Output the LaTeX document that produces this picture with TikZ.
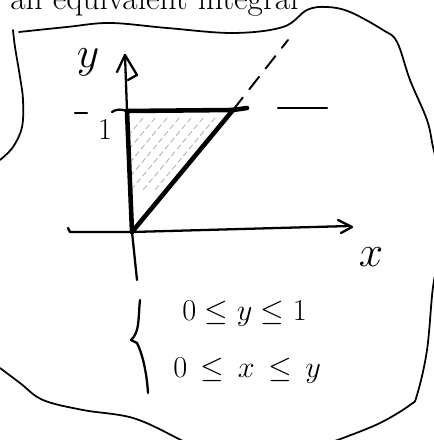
\documentclass[tikz,border=0pt]{standalone}
\usepackage{amsmath,amssymb}
\usepackage{tikz}
\usetikzlibrary{calc}

\begin{document}
\begin{tikzpicture}[x=0.2mm, y=-0.2mm, line cap=round, line join=round,
  frame/.style={line width=1pt},
  axis/.style={line width=1.3pt},
  edge/.style={line width=2.6pt},
  hatch/.style={gray!60, line width=0.5pt, dash pattern=on 3pt off 2pt},
  guide/.style={line width=1.1pt, dash pattern=on 9pt off 6pt},
  hand/.style={inner sep=0pt, font=\fontsize{24}{24}\selectfont},
  ineq/.style={inner sep=0pt, font=\fontsize{18}{18}\selectfont},
]
\useasboundingbox (0,0) rectangle (433,440);
% caption cut off by the page
\node[anchor=base west, inner sep=0pt, font=\fontsize{19}{19}\selectfont] (cap) at (10,10) {an equivalent integral};

% the sketched frame
\draw[frame] plot[smooth, tension=0.6] coordinates {(13,30) (15,47) (20,77) (23,100) (22,127) (13,147) (0,160)};
\draw[frame] plot[smooth, tension=0.6] coordinates {(19,32) (67,27) (110,23) (167,28) (233,33) (283,27) (307,10) (327,7) (350,12) (383,30) (397,42) (410,80) (427,120) (433,147) (440,175)};
\draw[frame] plot[smooth, tension=0.6] coordinates {(440,255) (433,287) (427,350) (417,395) (410,405) (380,423) (343,438) (320,446)};
\draw[frame] plot[smooth, tension=0.6] coordinates {(0,368) (20,383) (43,400) (83,410) (133,418) (177,438) (190,446)};

\coordinate (O) at (132,232);
\coordinate (A) at (127,111);
\coordinate (B) at (233,110);

% shaded region
\begin{scope}
  \clip (O) -- (A) -- (B) -- cycle;
  \foreach \s in {18,30,...,90}
    \draw[hatch] ($(B)+(-\s,8)$) -- ++(-60,72);
\end{scope}

% axes
\draw[axis] (137,280) -- (O) -- (A) -- (125,55);
\draw[axis] (117,72) -- (125,55) -- (137,75) -- (128,80);
\draw[axis] (68,228) -- (70,232) -- (O) -- (350,226);
\draw[axis] (338,220) -- (352,227) -- (341,233);

% y = 1 and y = x
\draw[axis] (75,113) -- (87,113);
\draw[axis] (112,112) .. controls (116,109) and (121,109) .. (A);
\draw[edge] (A) -- (B) -- (247,108);
\draw[axis] (278,108) -- (327,108);
\draw[edge] (O) -- (B);
\draw[guide] (B) -- (288,40);
\draw[edge] (O) -- (A);

% labels
\node[hand] (ylab) at (88,62) {$y$};
\node[ineq] (one) at (105,130) {$1$};
\node[hand] (xlab) at (371,257) {$x$};

% the system
\draw[axis] (140,300) .. controls (138,318) and (140,332) .. (131,340) -- (137,343)
  .. controls (143,355) and (147,375) .. (148,393);
\node[ineq, anchor=west] (ineq1) at (182,314) {$0\le y\le 1$};
\node[ineq, anchor=west] (ineq2) at (173,371) {$0\,\le\, x\,\le\, y$};
\end{tikzpicture}
\end{document}
